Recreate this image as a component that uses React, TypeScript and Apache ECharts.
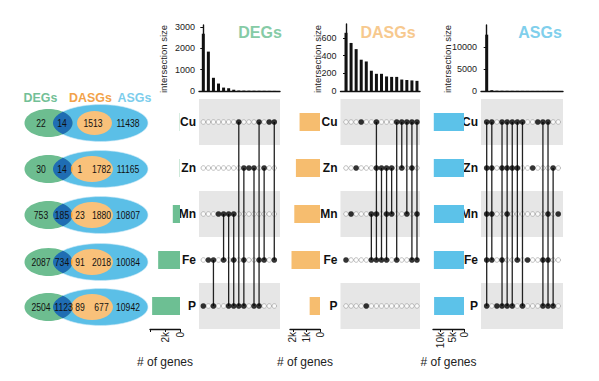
import React, { useEffect, useRef } from "react";
import * as echarts from "echarts";

const SETS = ["Cu", "Zn", "Mn", "Fe", "P"];

// Venn diagram counts (one entry per metal row)
const vennDegOnly = [22, 30, 753, 2087, 2504];
const vennDegAsg = [14, 14, 185, 734, 1123];
const vennDegDasg: (number | null)[] = [null, 1, 23, 91, 89];
const vennDasg = [1513, 1782, 1880, 2018, 677];
const vennAsg = [11438, 11165, 10807, 10084, 10942];

// Set sizes (# of genes)
const degSetSize = [36, 45, 961, 2912, 3716];
const dasgSetSize = [1513, 1783, 1903, 2109, 766];
const asgSetSize = [12965, 12962, 12895, 12927, 12831];

// Intersection sizes, sorted as in the plot
const degIntersect = [2690, 1850, 620, 350, 160, 130, 60, 22, 18, 14, 12, 10, 8, 6, 4];
const dasgIntersect = [660, 545, 475, 355, 335, 230, 195, 195, 165, 160, 160, 130, 125, 120, 115];
const asgIntersect = [12800, 180, 60, 50, 40, 35, 30, 25, 20, 15, 15, 12, 10, 8, 5];

// Members of each intersection column (indices into SETS)
const degMembers = [[4], [3], [3, 4], [2], [2, 3], [2, 4], [2, 3, 4], [0, 4], [1, 3, 4], [1], [1, 4], [0, 3, 4], [1, 3], [0], [0, 3]];
const dasgMembers = [[3], [2], [1], [0], [4], [2, 3], [0, 1, 2, 3], [1, 3], [1, 2, 3], [1, 2], [0, 3], [0, 1], [0, 2], [0, 1, 3], [0, 2, 3]];
const asgMembers = [[0, 1, 2, 3, 4], [0, 1, 2, 3], [4], [0, 1, 3, 4], [0, 1, 2, 4], [0, 1, 4], [0, 1, 3], [0, 4], [3], [1], [0], [0, 3, 4], [0, 2, 3, 4], [1, 4], [2]];

// Axis ticks
const degTopTicks = [0, 1000, 2000, 3000];
const dasgTopTicks = [0, 200, 400, 600];
const asgTopTicks = [0, 5000, 10000];
const degSizeLabels = [0, 2000];
const dasgSizeLabels = [0, 1000, 2000];
const asgSizeLabels = [0, 5000, 10000];

const FONT = "'Liberation Sans', Arial, Helvetica, sans-serif";

type Ell = { cx: number; cy: number; rx: number; ry: number };
const inside = (e: Ell, x: number, y: number) => ((x - e.cx) / e.rx) ** 2 + ((y - e.cy) / e.ry) ** 2 <= 1;
function lens(a: Ell, b: Ell): number[][] | null {
  const pts: number[][] = [];
  const N = 360;
  for (const [p, q] of [[a, b], [b, a]] as [Ell, Ell][]) {
    for (let k = 0; k < N; k++) {
      const t = (k / N) * Math.PI * 2;
      const x = p.cx + p.rx * Math.cos(t);
      const y = p.cy + p.ry * Math.sin(t);
      if (inside(q, x, y)) pts.push([x, y]);
    }
  }
  if (pts.length < 3) return null;
  const mx = pts.reduce((s, v) => s + v[0], 0) / pts.length;
  const my = pts.reduce((s, v) => s + v[1], 0) / pts.length;
  pts.sort((u, v) => Math.atan2(u[1] - my, u[0] - mx) - Math.atan2(v[1] - my, v[0] - mx));
  return pts;
}

function buildOption() {
  const panels = [
    {
      name: "DEGs", titleColor: "#86cba6", barColor: "#6dbf93", inter: degIntersect, members: degMembers,
      sizes: degSetSize, sizeLabels: degSizeLabels, sizeTickVals: [0, 2000, 4000], topTicks: degTopTicks,
      L: { setLeft: 150, setWidth: 30, setMax: 4000, mLeft: 199, mRight: 280, col0: 203.3, step: 5.07, topTop: 25, topMax: 3100, yNameX: 163, titleX: 260 },
    },
    {
      name: "DASGs", titleColor: "#f7c98e", barColor: "#f6bd6f", inter: dasgIntersect, members: dasgMembers,
      sizes: dasgSetSize, sizeLabels: dasgSizeLabels, sizeTickVals: [0, 1000, 2000], topTicks: dasgTopTicks,
      L: { setLeft: 290, setWidth: 30, setMax: 2220, mLeft: 340.5, mRight: 420, col0: 346, step: 5.07, topTop: 24, topMax: 760, yNameX: 317, titleX: 388 },
    },
    {
      name: "ASGs", titleColor: "#80cfec", barColor: "#5cc2e9", inter: asgIntersect, members: asgMembers,
      sizes: asgSetSize, sizeLabels: asgSizeLabels, sizeTickVals: [0, 5000, 10000], topTicks: asgTopTicks,
      L: { setLeft: 433, setWidth: 31, setMax: 13300, mLeft: 481, mRight: 563, col0: 486.7, step: 5.11, topTop: 25, topMax: 15000, yNameX: 447, titleX: 540 },
    },
  ];

  const MATRIX_TOP = 99;
  const MATRIX_H = 230;
  const grid: any[] = [];
  const xAxis: any[] = [];
  const yAxis: any[] = [];
  const series: any[] = [];
  const graphic: any[] = [];
  const axisLine = { show: true, lineStyle: { color: "#111", width: 1.4 } };

  panels.forEach((p) => {
    const L = p.L;
    const xmin = -(L.col0 - L.mLeft) / L.step;
    const xmax = xmin + (L.mRight - L.mLeft) / L.step;
    const gi = grid.length;
    grid.push({ left: L.mLeft, width: L.mRight - L.mLeft, top: L.topTop, height: 91 - L.topTop });
    grid.push({ left: L.mLeft, width: L.mRight - L.mLeft, top: MATRIX_TOP, height: MATRIX_H });
    grid.push({ left: L.setLeft, width: L.setWidth, top: MATRIX_TOP, height: MATRIX_H });

    xAxis.push({ gridIndex: gi, type: "value", min: xmin, max: xmax, axisLine, axisTick: { show: false }, axisLabel: { show: false }, splitLine: { show: false } });
    yAxis.push({
      gridIndex: gi, type: "value", min: 0, max: L.topMax, axisLine,
      axisTick: { show: true, length: 3, lineStyle: { color: "#111", width: 1 }, customValues: p.topTicks },
      axisLabel: { fontSize: 9, color: "#222", fontFamily: FONT, margin: 4, customValues: p.topTicks, formatter: (v: number) => String(v) },
      splitLine: { show: false },
    });

    xAxis.push({ gridIndex: gi + 1, type: "value", min: xmin, max: xmax, show: false });
    yAxis.push({
      gridIndex: gi + 1, type: "category", data: SETS, inverse: true,
      axisLine: { show: false }, axisTick: { show: false },
      axisLabel: { fontSize: 12, fontWeight: "bold", color: "#111", fontFamily: FONT, margin: 3 },
      splitLine: { show: false },
      splitArea: { show: true, areaStyle: { color: ["#e6e6e6", "rgba(255,255,255,0)"] } },
    });

    xAxis.push({
      gridIndex: gi + 2, type: "value", min: 0, max: L.setMax, inverse: true, position: "bottom", axisLine,
      axisTick: { show: true, length: 3, inside: false, lineStyle: { color: "#111", width: 1 }, customValues: p.sizeTickVals },
      axisLabel: {
        rotate: 90, fontSize: 10, color: "#222", fontFamily: FONT, margin: 3, customValues: p.sizeLabels,
        formatter: (v: number) => (v === 0 ? "0" : v / 1000 + "k"),
      },
      splitLine: { show: false },
    });
    yAxis.push({ gridIndex: gi + 2, type: "category", data: SETS, inverse: true, show: false });

    series.push({
      type: "bar", xAxisIndex: gi, yAxisIndex: gi, barWidth: 3,
      itemStyle: { color: "#111" }, data: p.inter.map((v, i) => [i, v]),
    });
    const lines = p.members
      .map((m, i) => [i, Math.min(...m), Math.max(...m)])
      .filter((d) => d[1] !== d[2]);
    series.push({
      type: "custom", xAxisIndex: gi + 1, yAxisIndex: gi + 1, z: 3,
      encode: { x: 0, y: 1 },
      renderItem: (_params: any, api: any) => {
        const a = api.coord([api.value(0), api.value(1)]);
        const b = api.coord([api.value(0), api.value(2)]);
        return { type: "line", shape: { x1: a[0], y1: a[1], x2: b[0], y2: b[1] }, style: { stroke: "#222", lineWidth: 1.3 } };
      },
      data: lines,
    });
    const open: number[][] = [];
    const filled: number[][] = [];
    p.members.forEach((m, i) => {
      SETS.forEach((_s, r) => {
        if (m.includes(r)) filled.push([i, r]);
        else open.push([i, r]);
      });
    });
    series.push({
      type: "scatter", xAxisIndex: gi + 1, yAxisIndex: gi + 1, symbolSize: 4.6, z: 2,
      itemStyle: { color: "#ffffff", borderColor: "#9a9a9a", borderWidth: 0.8 }, data: open,
    });
    series.push({
      type: "scatter", xAxisIndex: gi + 1, yAxisIndex: gi + 1, symbolSize: 5.6, z: 4,
      itemStyle: { color: "#000" }, data: filled,
    });
    series.push({
      type: "bar", xAxisIndex: gi + 2, yAxisIndex: gi + 2, barWidth: 18,
      itemStyle: { color: p.barColor }, data: p.sizes,
    });

    graphic.push({
      type: "text", x: L.yNameX, y: 59, rotation: Math.PI / 2,
      style: { text: "intersection size", fontSize: 9.5, fontFamily: FONT, fill: "#222", align: "center", verticalAlign: "middle" },
    });
    graphic.push({
      type: "text", x: L.titleX, y: 32,
      style: { text: p.name, fontSize: 16, fontWeight: "bold", fontFamily: FONT, fill: p.titleColor, align: "center", verticalAlign: "middle" },
    });
    graphic.push({
      type: "text", x: L.setLeft + L.setWidth / 2, y: 362,
      style: { text: "# of genes", fontSize: 12, fontFamily: FONT, fill: "#222", align: "center", verticalAlign: "middle" },
    });
  });

  // Venn diagrams
  const rowY = [123, 169, 215, 262, 307];
  const hdr = (x: number, text: string, fill: string) => ({
    type: "text", x, y: 97, scaleX: 0.92,
    style: { text, fontSize: 13.5, fontWeight: "bold", fontFamily: FONT, fill, align: "center", verticalAlign: "middle" },
  });
  graphic.push(hdr(40.5, "DEGs", "#72c096"), hdr(90.5, "DASGs", "#f2a24a"), hdr(134.5, "ASGs", "#7ccdec"));
  rowY.forEach((cy, i) => {
    const green: Ell = { cx: 48.5, cy, rx: 24, ry: 14 };
    const blue: Ell = { cx: 100.5, cy, rx: 47.5, ry: 18.5 };
    const orange: Ell = i === 0 ? { cx: 94.5, cy, rx: 17.5, ry: 12 } : { cx: 92, cy, rx: 21, ry: 13 };
    graphic.push({ type: "ellipse", shape: blue, style: { fill: "#5bbfe7", stroke: "#cfeaf6", lineWidth: 0.6 } });
    graphic.push({ type: "ellipse", shape: green, style: { fill: "#6dbd90" } });
    const gb = lens(green, blue);
    if (gb) graphic.push({ type: "polygon", shape: { points: gb }, style: { fill: "#1f6db3" } });
    graphic.push({ type: "ellipse", shape: orange, style: { fill: "#f9c17a" } });
    const go = lens(green, orange);
    if (go) graphic.push({ type: "polygon", shape: { points: go }, style: { fill: "#f59e2c" } });

    const txt = (x: number, v: number | null) => {
      if (v === null) return;
      graphic.push({ type: "text", x, y: cy, scaleX: 0.78, style: { text: String(v), fontSize: 11, fontFamily: FONT, fill: "#111", align: "center", verticalAlign: "middle" } });
    };
    txt(41, vennDegOnly[i]);
    txt(i === 4 ? 63.5 : 62, vennDegAsg[i]);
    txt(80, vennDegDasg[i]);
    txt(i === 0 ? 93 : 101.5, vennDasg[i]);
    txt(128, vennAsg[i]);
  });

  return {
    animation: false,
    backgroundColor: "#ffffff",
    grid, xAxis, yAxis, series, graphic,
  };
}

export default function App() {
  const ref = useRef<HTMLDivElement>(null);
  useEffect(() => {
    if (!ref.current) return;
    const chart = echarts.init(ref.current, null, { renderer: "svg" });
    chart.setOption(buildOption() as any);
    return () => chart.dispose();
  }, []);
  return <div ref={ref} style={{ position: "absolute", left: 0, top: 0, width: 599, height: 381, background: "#fff" }} />;
}
